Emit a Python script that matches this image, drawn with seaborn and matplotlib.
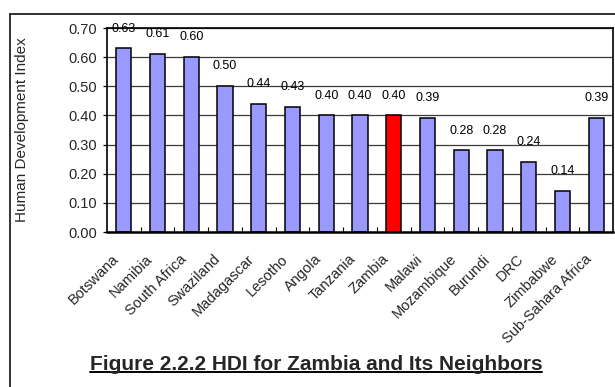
import matplotlib
matplotlib.use("Agg")
import matplotlib.pyplot as plt
import matplotlib.transforms as mtransforms
from matplotlib.lines import Line2D
from matplotlib.ticker import FormatStrFormatter, MultipleLocator, FixedLocator
import seaborn as sns
import pandas as pd

# Human Development Index, Zambia and neighbouring countries
countries = ["Botswana", "Namibia", "South Africa", "Swaziland", "Madagascar",
             "Lesotho", "Angola", "Tanzania", "Zambia", "Malawi",
             "Mozambique", "Burundi", "DRC", "Zimbabwe", "Sub-Sahara Africa"]
hdi = [0.63, 0.61, 0.60, 0.50, 0.44, 0.43, 0.40, 0.40, 0.40, 0.39,
       0.28, 0.28, 0.24, 0.14, 0.39]
highlight = "Zambia"

bar_blue = "#9999FF"
bar_red = "#FF0000"
palette = [bar_red if c == highlight else bar_blue for c in countries]

df = pd.DataFrame({"country": countries, "hdi": hdi})

sns.set_style("white")
plt.rcParams["font.family"] = ["Liberation Sans", "DejaVu Sans"]

W, H = 615, 387
fig = plt.figure(figsize=(W / 100, H / 100), dpi=100)
fig.patch.set_facecolor("white")

# plot area in pixel coordinates (left, top, right, bottom)
L, T, R, B = 107, 28, 613, 232
ax = fig.add_axes([L / W, (H - B) / H, (R - L) / W, (B - T) / H])

sns.barplot(data=df, x="country", y="hdi", hue="country", palette=palette,
            width=0.45, edgecolor="black", linewidth=1.1, legend=False,
            saturation=1, ax=ax)

for cont in ax.containers:
    ax.bar_label(cont, fmt="%.2f", padding=10, fontsize=9, color="black")

ax.set_xlim(-0.5, len(countries) - 0.5)
ax.set_ylim(0, 0.70)
ax.yaxis.set_major_locator(MultipleLocator(0.10))
ax.yaxis.set_major_formatter(FormatStrFormatter("%.2f"))

ax.set_axisbelow(True)
ax.yaxis.grid(True, color="#3a3a3a", linewidth=0.9)
ax.xaxis.grid(False)

for side in ["left", "right", "top"]:
    ax.spines[side].set_visible(True)
    ax.spines[side].set_color("black")
    ax.spines[side].set_linewidth(1.2)
ax.spines["bottom"].set_color("black")
ax.spines["bottom"].set_linewidth(1.8)

# category boundaries carry small inward ticks
ax.xaxis.set_minor_locator(FixedLocator([i + 0.5 for i in range(len(countries) - 1)]))
ax.tick_params(axis="x", which="minor", direction="in", length=3.5, width=0.8,
               color="black", bottom=True)
ax.tick_params(axis="x", which="major", length=0, pad=18, labelsize=10.5)
ax.tick_params(axis="y", which="major", direction="out", length=3, width=0.9,
               color="black", left=True, pad=4, labelsize=10.5)

ax.set_xlabel("")
ax.set_ylabel("Human Development Index", fontsize=11)
ax.yaxis.label.set_va("center")
ax.yaxis.set_label_coords((22 - L) / (R - L), 0.5)

shift = mtransforms.ScaledTranslation(-7 / 100, 0, fig.dpi_scale_trans)
for lab in ax.get_xticklabels():
    lab.set_rotation(45)
    lab.set_ha("right")
    lab.set_va("center")
    lab.set_rotation_mode("anchor")
    lab.set_transform(lab.get_transform() + shift)

# outer frame of the figure box
frame_kw = dict(color="#222222", linewidth=1.3, transform=fig.transFigure)
fig.add_artist(Line2D([10 / W, 1.0], [1 - 14 / H, 1 - 14 / H], **frame_kw))
fig.add_artist(Line2D([10 / W, 10 / W], [1 - 14 / H, 0.0], **frame_kw))

# underlined caption
cap = fig.text(316 / W, 1 - 365 / H, "Figure 2.2.2 HDI for Zambia and Its Neighbors",
               ha="center", va="center", fontsize=15, fontweight="bold")
fig.canvas.draw()
bb = cap.get_window_extent()
uy = (bb.y0 + 2.5) / H
fig.add_artist(Line2D([bb.x0 / W, bb.x1 / W], [uy, uy], color="black",
                      linewidth=1.4, transform=fig.transFigure))

fig.savefig("out.png", dpi=100)
